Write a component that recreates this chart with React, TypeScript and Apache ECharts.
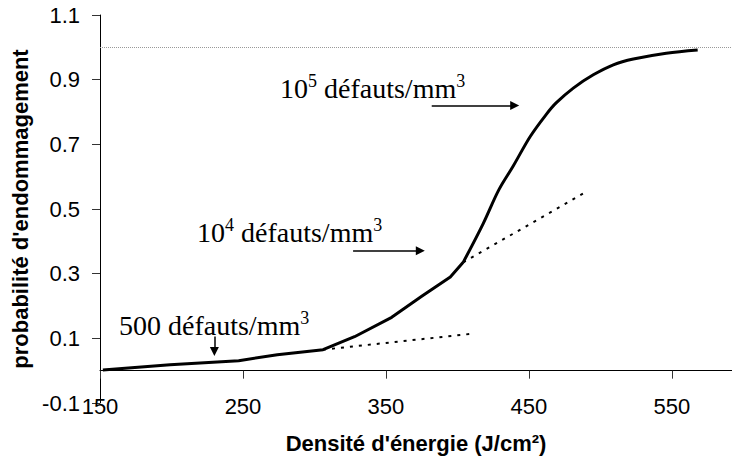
import React, { useEffect, useRef } from "react";
import * as echarts from "echarts";

// Energy density (J/cm²) and damage probability of the measured curve
const energy = [152, 199, 247, 274, 306, 328, 354, 375, 395, 404, 418, 429, 439, 451, 462, 469, 481, 495, 509, 523, 546, 568];
const probability = [0.002, 0.018, 0.031, 0.049, 0.065, 0.105, 0.165, 0.23, 0.29, 0.335, 0.455, 0.56, 0.633, 0.725, 0.792, 0.828, 0.874, 0.915, 0.946, 0.964, 0.982, 0.992];
// index where the steep (10^5) part of the curve begins
const steepStart = 9;

// Extrapolation (dotted) segments
const extrapLowX = [306, 412];
const extrapLowY = [0.065, 0.115];
const extrapMidX = [404, 490];
const extrapMidY = [0.335, 0.553];

// Reference level
const saturation = 1.0;

// Arrows [x1, y1, x2, y2]
const arrow5 = [382, 0.82, 440, 0.82];
const arrow4 = [327, 0.371, 374, 0.371];
const arrow500 = [230, 0.106, 230, 0.059];

const xAxisTitle = "Densité d'énergie (J/cm²)";
const yAxisTitle = "probabilité d'endommagement";
const label5 = "{n|10}{sup|5}{n| défauts/mm}{sup|3}";
const label4 = "{n|10}{sup|4}{n| défauts/mm}{sup|3}";
const label500 = "{n|500 défauts/mm}{sup|3}";

export default function App() {
  const ref = useRef<HTMLDivElement>(null);
  useEffect(() => {
    if (!ref.current) return;
    const chart = echarts.init(ref.current, null, { renderer: "svg" });
    const pair = (xs: number[], ys: number[]) => xs.map((x, i) => [x, ys[i]]);
    const curve = pair(energy, probability);
    const arrowLine = (a: number[]) => [{ coord: [a[0], a[1]] }, { coord: [a[2], a[3]] }];
    const annStyle = (text: string) => ({
      text,
      fill: "#000",
      fontFamily: "Liberation Serif",
      fontSize: 28,
      verticalAlign: "middle",
      align: "left",
      rich: {
        n: { fontFamily: "Liberation Serif", fontSize: 28, lineHeight: 32, verticalAlign: "middle", fill: "#000" },
        sup: { fontFamily: "Liberation Serif", fontSize: 18, lineHeight: 16, verticalAlign: "top", fill: "#000" },
      },
    });
    chart.setOption({
      animation: false,
      backgroundColor: "#fff",
      grid: { left: 100, right: 0, top: 15, bottom: 54, containLabel: false },
      xAxis: [
        {
          type: "value",
          min: 150,
          max: 592,
          interval: 100,
          axisLine: { onZero: true, lineStyle: { color: "#000", width: 1 } },
          axisTick: { show: true, length: 8, lineStyle: { color: "#333" } },
          axisLabel: { show: false },
          splitLine: { show: false },
        },
        {
          type: "value",
          min: 150,
          max: 592,
          interval: 100,
          position: "bottom",
          axisLine: { show: false, onZero: false },
          axisTick: { show: false },
          axisLabel: {
            show: true,
            margin: -8,
            showMaxLabel: false,
            color: "#000",
            fontFamily: "Liberation Sans",
            fontSize: 22,
          },
          splitLine: { show: false },
          name: xAxisTitle,
          nameLocation: "middle",
          nameGap: 29,
          nameTextStyle: { color: "#000", fontFamily: "Liberation Sans", fontSize: 22, fontWeight: "bold" },
        },
      ],
      yAxis: {
        type: "value",
        min: -0.1,
        max: 1.1,
        interval: 0.2,
        axisLine: { show: true, onZero: false, lineStyle: { color: "#000", width: 1 } },
        axisTick: { show: true, length: 8, lineStyle: { color: "#333" } },
        axisLabel: {
          margin: 20,
          color: "#000",
          fontFamily: "Liberation Sans",
          fontSize: 22,
          formatter: (v: number) => v.toFixed(1),
        },
        splitLine: { show: false },
        name: yAxisTitle,
        nameLocation: "middle",
        nameRotate: 90,
        nameGap: 68,
        nameTextStyle: { color: "#000", fontFamily: "Liberation Sans", fontSize: 22, fontWeight: "bold" },
      },
      series: [
        {
          type: "line",
          xAxisIndex: 0,
          data: curve.slice(0, steepStart + 1),
          showSymbol: false,
          symbol: "none",
          lineStyle: { color: "#000", width: 3, join: "round" },
          z: 5,
          markLine: {
            silent: true,
            symbol: ["none", "none"],
            label: { show: false },
            lineStyle: { color: "#999", width: 1, type: [1, 1] },
            data: [{ yAxis: saturation }],
          },
        },
        {
          type: "line",
          xAxisIndex: 0,
          data: curve.slice(steepStart),
          showSymbol: false,
          symbol: "none",
          smooth: 0.35,
          lineStyle: { color: "#000", width: 3 },
          z: 5,
        },
        {
          type: "line",
          xAxisIndex: 0,
          data: pair(extrapLowX, extrapLowY),
          showSymbol: false,
          symbol: "none",
          lineStyle: { color: "#000", width: 2, type: [3, 6] },
        },
        {
          type: "line",
          xAxisIndex: 0,
          data: pair(extrapMidX, extrapMidY),
          showSymbol: false,
          symbol: "none",
          lineStyle: { color: "#000", width: 2, type: [3, 6] },
          markLine: {
            silent: true,
            symbol: ["none", "triangle"],
            symbolSize: [9, 9],
            label: { show: false },
            lineStyle: { color: "#000", width: 1.5, type: "solid" },
            itemStyle: { color: "#000" },
            data: [arrowLine(arrow5), arrowLine(arrow4), arrowLine(arrow500)],
          },
        },
      ],
      graphic: [
        { type: "text", x: 280, y: 88, style: annStyle(label5) },
        { type: "text", x: 197, y: 232, style: annStyle(label4) },
        { type: "text", x: 119, y: 325, style: annStyle(label500) },
      ],
    });
    return () => chart.dispose();
  }, []);
  return (
    <div
      ref={ref}
      style={{ position: "fixed", left: 0, top: 0, width: 732, height: 459, background: "#fff" }}
    />
  );
}
